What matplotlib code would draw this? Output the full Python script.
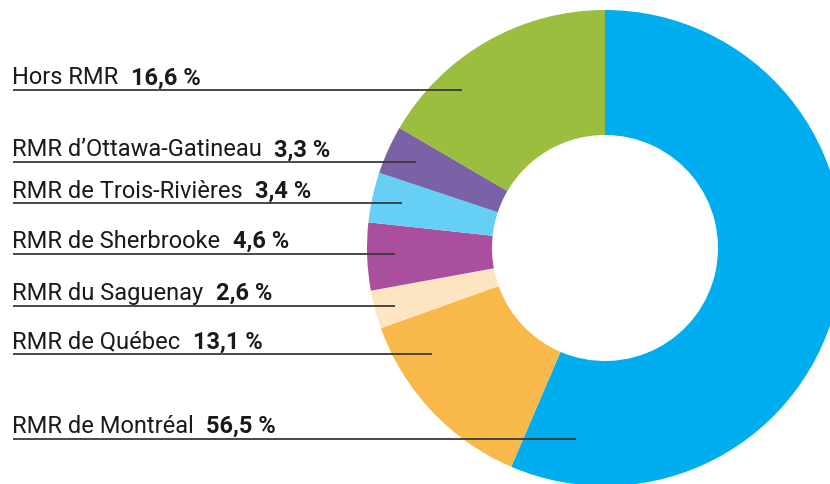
import matplotlib
matplotlib.use("Agg")
import matplotlib.pyplot as plt

# Data (clockwise from top)
categories = ["RMR de Montréal", "RMR de Québec", "RMR du Saguenay", "RMR de Sherbrooke",
              "RMR de Trois-Rivières", "RMR d\u2019Ottawa-Gatineau", "Hors RMR"]
values = [56.5, 13.1, 2.6, 4.6, 3.4, 3.3, 16.6]
value_labels = ["56,5 %", "13,1 %", "2,6 %", "4,6 %", "3,4 %", "3,3 %", "16,6 %"]
colors = ["#00AEEF", "#F9B84A", "#FDE5C2", "#A94F9D", "#66CFF5", "#7B62A7", "#9BBE3E"]

# Layout (pixel coordinates, y from top)
W, H = 830, 485
cx, cy, R, r = 605, 249, 238, 113
line_y = [439.5, 355, 306.5, 254.5, 204, 163, 91]
line_end = [576, 432, 395, 395, 402, 416, 462]
x0 = 13

plt.rcParams['font.family'] = ['Roboto', 'DejaVu Sans']
fig = plt.figure(figsize=(W / 100, H / 100), dpi=100)
ax = fig.add_axes([0, 0, 1, 1])

ax.pie(values, colors=colors, startangle=90, counterclock=False,
       center=(cx, H - cy), radius=R,
       wedgeprops=dict(width=R - r, linewidth=0), frame=True)
ax.set_xlim(0, W)
ax.set_ylim(0, H)
ax.set_aspect('equal')
ax.axis('off')

fs = 17
for name, lab, ly, le in zip(categories, value_labels, line_y, line_end):
    y = H - ly
    ax.plot([x0, le], [y, y], color="#3a3a3a", lw=1.3, solid_capstyle='butt', zorder=5)
    t = ax.text(x0 - 1, y + 6.5, name, fontsize=fs, color="#1a1a1a",
                ha='left', va='baseline', zorder=6)
    ax.annotate(lab, xy=(1, 0), xycoords=t, xytext=(9, 0), textcoords='offset points',
                fontsize=fs, fontweight='bold', color="#1a1a1a",
                ha='left', va='bottom', zorder=6)

fig.savefig("out.png", dpi=100)
